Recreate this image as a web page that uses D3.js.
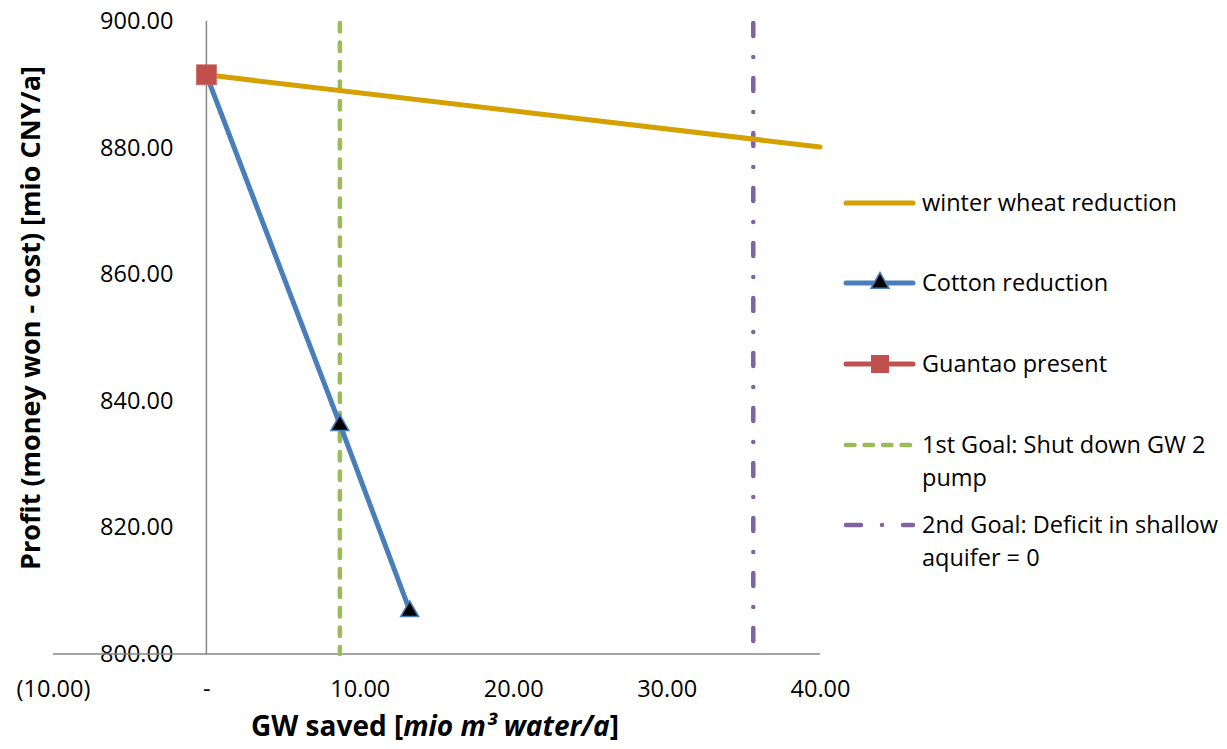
<!DOCTYPE html>
<html>
<head>
<meta charset="utf-8">
<script src="https://cdn.jsdelivr.net/npm/d3@7"></script>
<style>
  body { margin: 0; background: #fff; }
  svg { font-family: "Open Sans", "Noto Sans", sans-serif; }
</style>
</head>
<body>
<svg id="chart" width="1227" height="749"></svg>
<script>
// data
const xTicks = [-10, 0, 10, 20, 30, 40];
const yTicks = [800, 820, 840, 860, 880, 900];
const wheatX = [0, 40];
const wheatY = [891.5, 880.1];
const cottonX = [0, 8.7, 13.25];
const cottonY = [891.5, 836.3, 806.9];
const presentX = [0];
const presentY = [891.5];
const goal1X = 8.7;
const goal2X = 35.65;
const legendLabels = [
  ['winter wheat reduction'],
  ['Cotton reduction'],
  ['Guantao present'],
  ['1st Goal: Shut down GW 2', 'pump'],
  ['2nd Goal: Deficit in shallow', 'aquifer = 0']
];

const colors = {
  wheat : '#d4a100',
  cotton: '#4a7ebb',
  present: '#c0504d',
  goal1 : '#9bbb59',
  goal2 : '#8064a2',
  axis  : '#868686'
};

const svg = d3.select('#chart');
const x = d3.scaleLinear().domain([-10, 40]).range([53, 820]);
const y = d3.scaleLinear().domain([800, 900]).range([654, 21]);

const fmt = v => v === 0 ? '-' : v < 0 ? `(${d3.format(',.2f')(-v)})` : d3.format(',.2f')(v);
const tickFont = 23.5;

// y axis labels (sit left of the value axis which crosses at x = 0)
const yAxis = d3.axisLeft(y).tickValues(yTicks).tickSize(0).tickPadding(33).tickFormat(d3.format('.2f'));
const gy = svg.append('g').attr('transform', `translate(${x(0)},0)`).call(yAxis);
gy.select('.domain').remove();
gy.attr('font-size', null).attr('font-family', null);
gy.selectAll('text').attr('font-size', tickFont).attr('fill', '#000');

const xAxis = d3.axisBottom(x).tickValues(xTicks).tickSize(0).tickPadding(26).tickFormat(fmt);
const gx = svg.append('g').attr('transform', `translate(0,${y(800)})`).call(xAxis);
gx.select('.domain').remove();
gx.attr('font-size', null).attr('font-family', null);
gx.selectAll('text').attr('font-size', tickFont).attr('fill', '#000');

// axis lines
svg.append('line')
  .attr('x1', x(-10)).attr('x2', x(40)).attr('y1', y(800)).attr('y2', y(800))
  .attr('stroke', colors.axis).attr('stroke-width', 1.5);
svg.append('line')
  .attr('x1', x(0)).attr('x2', x(0)).attr('y1', y(900)).attr('y2', y(800))
  .attr('stroke', colors.axis).attr('stroke-width', 1.5);

// goal lines
svg.append('line')
  .attr('x1', x(goal1X)).attr('x2', x(goal1X)).attr('y1', y(900) + 2).attr('y2', y(800))
  .attr('stroke', colors.goal1).attr('stroke-width', 4.5)
  .attr('stroke-linecap', 'round').attr('stroke-dasharray', '8.5 11');
svg.append('line')
  .attr('x1', x(goal2X)).attr('x2', x(goal2X)).attr('y1', y(900) + 2).attr('y2', y(800))
  .attr('stroke', colors.goal2).attr('stroke-width', 4.5)
  .attr('stroke-linecap', 'round').attr('stroke-dasharray', '13 21 0.01 21');

const line = d3.line().x(d => x(d[0])).y(d => y(d[1]));

svg.append('path')
  .attr('d', line(d3.zip(wheatX, wheatY)))
  .attr('fill', 'none').attr('stroke', colors.wheat).attr('stroke-width', 5).attr('stroke-linecap', 'round');

svg.append('path')
  .attr('d', line(d3.zip(cottonX, cottonY)))
  .attr('fill', 'none').attr('stroke', colors.cotton).attr('stroke-width', 5).attr('stroke-linecap', 'round');

const tri = d3.symbol().type(d3.symbolTriangle).size(140);
svg.selectAll('.tri')
  .data(d3.zip(cottonX, cottonY))
  .enter().append('path')
  .attr('class', 'tri')
  .attr('transform', d => `translate(${x(d[0])},${y(d[1]) + 1})`)
  .attr('d', tri)
  .attr('fill', '#000').attr('stroke', colors.cotton).attr('stroke-width', 1.5);

svg.selectAll('.sq')
  .data(d3.zip(presentX, presentY))
  .enter().append('rect')
  .attr('class', 'sq')
  .attr('x', d => x(d[0]) - 10).attr('y', d => y(d[1]) - 10)
  .attr('width', 20).attr('height', 20)
  .attr('fill', colors.present).attr('stroke', '#d36a67').attr('stroke-width', 0.8);

// legend
const legendY = [203, 283, 364, 445, 525];
const lg = svg.append('g');
const styles = [
  {c: colors.wheat, dash: null},
  {c: colors.cotton, dash: null},
  {c: colors.present, dash: null},
  {c: colors.goal1, dash: '8.5 10'},
  {c: colors.goal2, dash: '15 21 0.01 21'}
];
legendLabels.forEach((lines, i) => {
  const yy = legendY[i];
  lg.append('line')
    .attr('x1', 846).attr('x2', 913).attr('y1', yy).attr('y2', yy)
    .attr('stroke', styles[i].c).attr('stroke-width', i < 3 ? 5 : 4.5).attr('stroke-linecap', 'round')
    .attr('stroke-dasharray', styles[i].dash);
  if (i === 1) {
    lg.append('path').attr('transform', `translate(880,${yy})`).attr('d', tri)
      .attr('fill', '#000').attr('stroke', colors.cotton).attr('stroke-width', 1.5);
  }
  if (i === 2) {
    lg.append('rect').attr('x', 871).attr('y', yy - 9).attr('width', 18).attr('height', 18)
      .attr('fill', colors.present);
  }
  const t = lg.append('text').attr('x', 922).attr('y', yy)
    .attr('font-size', tickFont).attr('fill', '#000');
  lines.forEach((s, j) => {
    t.append('tspan').attr('x', 922).attr('dy', j === 0 ? '0.35em' : 33).text(s);
  });
});

// axis titles
const xt = svg.append('text').attr('x', 435).attr('y', 736)
  .attr('text-anchor', 'middle').attr('font-size', 28).attr('font-weight', 'bold');
xt.append('tspan').text('GW saved [');
xt.append('tspan').attr('font-style', 'italic').text('mio m³ water/a');
xt.append('tspan').text(']');

svg.append('text')
  .attr('transform', 'translate(40,318) rotate(-90)')
  .attr('text-anchor', 'middle').attr('font-size', 27).attr('font-weight', 'bold')
  .text('Profit (money won - cost) [mio CNY/a]');
</script>
</body>
</html>
